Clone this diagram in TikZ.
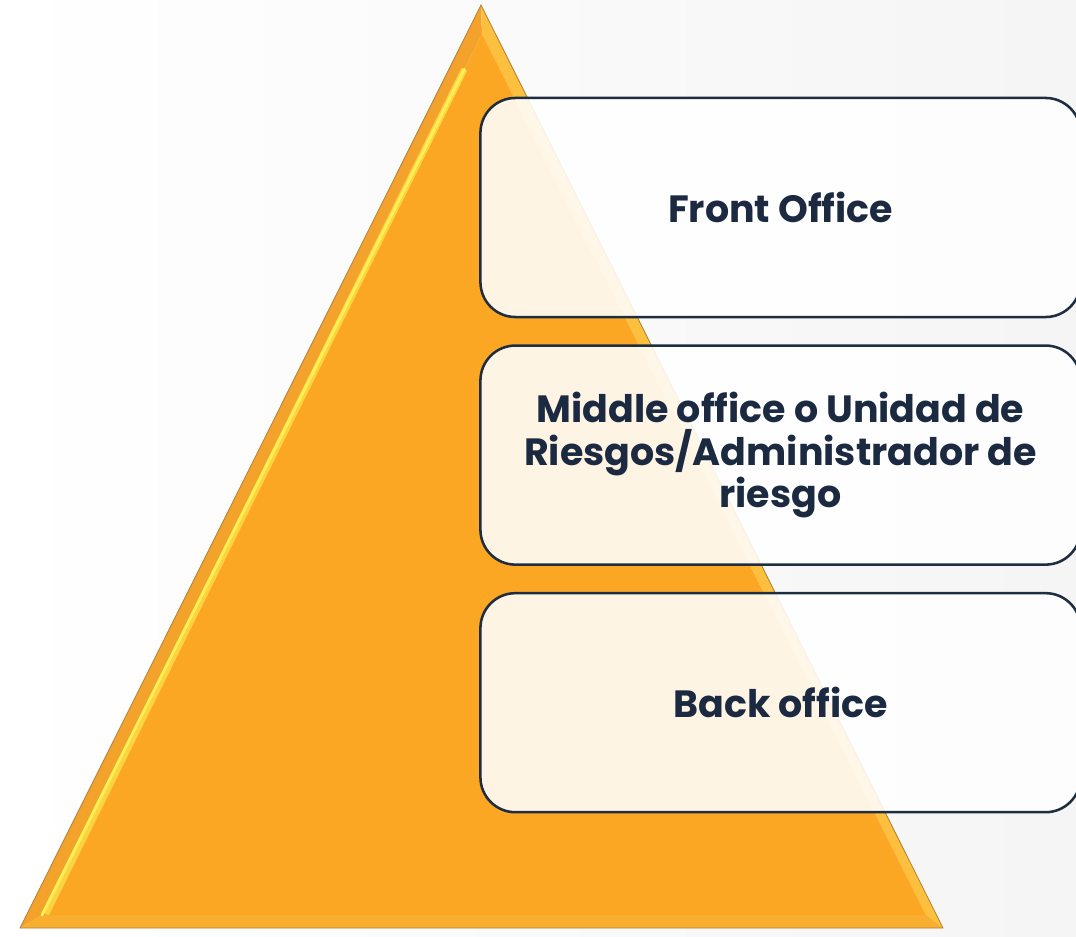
\documentclass[tikz,border=0pt]{standalone}
\usepackage{fontspec}
\setmainfont{Poppins}
\usetikzlibrary{positioning,calc}
\definecolor{pyrfill}{HTML}{FBA724}
\definecolor{pyrleft}{HTML}{F3A32C}
\definecolor{pyrright}{HTML}{FDC03E}
\definecolor{pyrbottom}{HTML}{F8AE2E}
\definecolor{pyredge}{HTML}{B0823A}
\definecolor{pyrglow}{HTML}{FFF056}
\definecolor{boxline}{HTML}{1E2D40}
\definecolor{boxtext}{HTML}{1B2A41}

\begin{document}
\begin{tikzpicture}[x=0.025cm, y=-0.025cm,
    officebox/.style={draw=boxline, line width=1.8pt, rounded corners=0.875cm,
        fill=white, fill opacity=0.88, text opacity=1, text=boxtext,
        minimum width=15cm, minimum height=5.475cm, align=center,
        font=\fontsize{27}{30}\selectfont\bfseries}]
    \useasboundingbox (0,0) rectangle (1076,937);
    \shade[left color=white, right color=gray!8]
        (0,0) rectangle (1076,937);
    \coordinate (top) at (481,5);
    \coordinate (left) at (20,928);
    \coordinate (right) at (943,928);
    \coordinate (itop) at (482,34);
    \coordinate (ileft) at (42,915);
    \coordinate (iright) at (926,915);
    \fill[pyrleft] (top) -- (left) -- (ileft) -- (itop) -- cycle;
    \fill[pyrright] (top) -- (itop) -- (iright) -- (right) -- cycle;
    \fill[pyrbottom] (left) -- (right) -- (iright) -- (ileft) -- cycle;
    \fill[pyrfill] (itop) -- (ileft) -- (iright) -- cycle;
    \draw[pyrglow!60!pyrfill, line width=4.5pt] ($(itop)!0.04!(ileft)$) -- ($(ileft)+(4,-1)$);
    \draw[pyrglow, line width=2pt, line cap=round] ($(itop)!0.04!(ileft)$) -- (ileft);
    \draw[pyredge, line width=0.6pt] (top) -- (left) -- (right) -- cycle;
    \node[officebox] (front) at (780.5,207.5) {Front Office};
    \node[officebox, below=0.65cm of front] (middle)
        {Middle office o Unidad de\\Riesgos/Administrador de\\riesgo};
    \node[officebox, below=0.65cm of middle] (back) {Back office};
\end{tikzpicture}
\end{document}
